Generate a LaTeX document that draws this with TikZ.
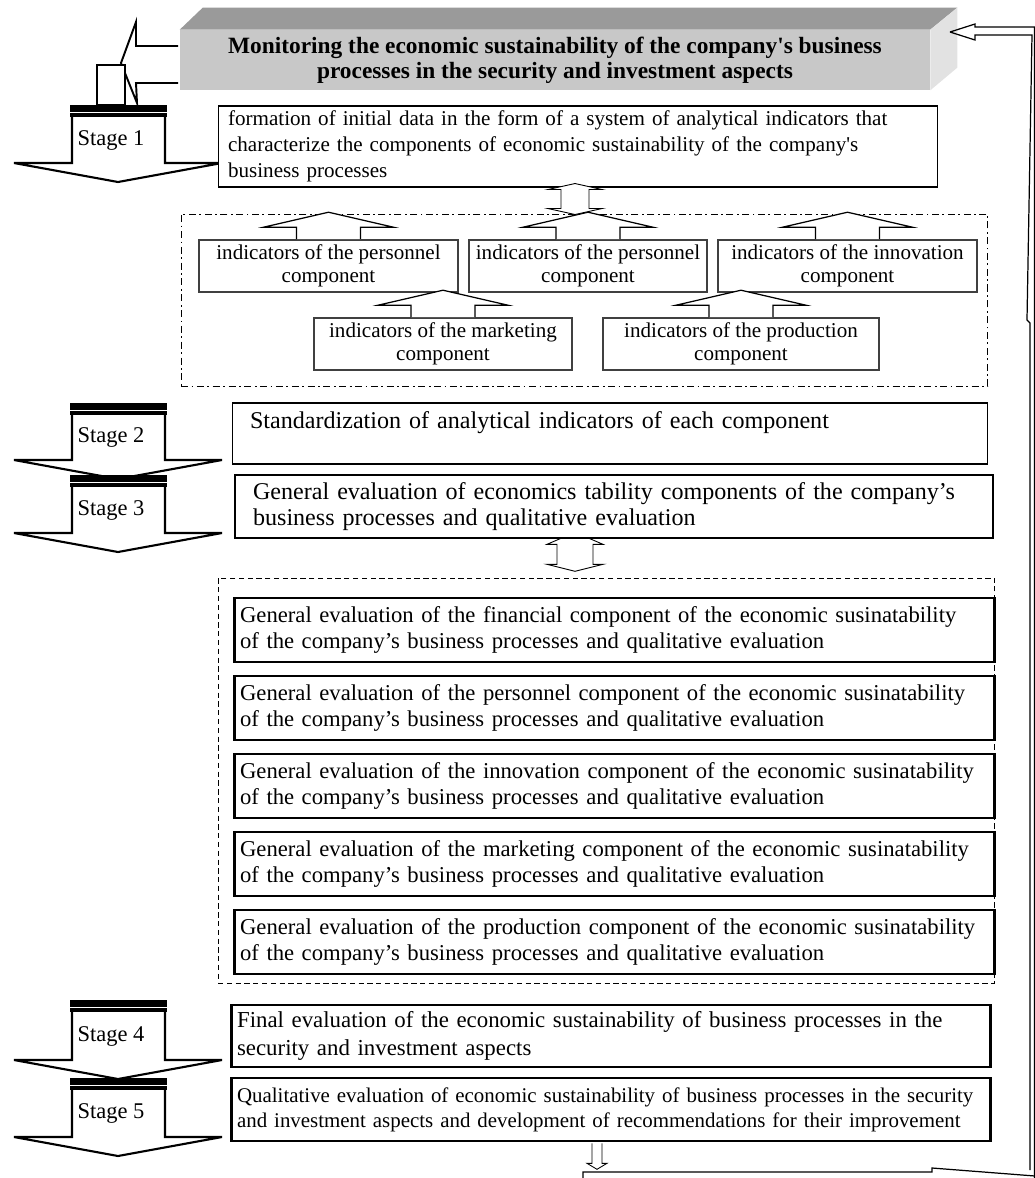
\documentclass[tikz,border=0pt]{standalone}
\usepackage{fontspec}
\setmainfont{Liberation Serif}
\usetikzlibrary{calc,backgrounds}
\tikzset{>=stealth}
\definecolor{hdrfront}{HTML}{C8C8C8}
\definecolor{hdrtop}{HTML}{9A9A9A}
\definecolor{hdrside}{HTML}{E2E2E2}
\newcommand{\sq}{\textquotesingle}
\tikzset{
  box/.style={draw, fill=white, align=left, line width=0.6pt, inner ysep=0pt, font=\fontsize{12}{14.7}\selectfont},
  thickbox/.style={box, line width=1.5pt},
  ind/.style={draw=black!75, fill=white, line width=0.9pt, align=center, inner sep=0pt, minimum height=1.04cm, font=\fontsize{12}{13}\selectfont},
  hollow/.style={draw, fill=white, line width=0.5pt},
  stagebody/.style={draw, fill=white, line width=1.2pt},
  stagelbl/.style={font=\fontsize{12.8}{14}\selectfont},
  grp/.style={draw, line width=0.5pt, inner sep=0pt},
}

\begin{document}
\begin{tikzpicture}[x=0.02cm, y=-0.02cm]
          \useasboundingbox (0,0) rectangle (1035,1178);
          % header block
          \node[fill=hdrfront, minimum width=15cm, minimum height=1.2cm, inner sep=0pt, align=center,
                font=\bfseries\fontsize{13.3}{14.4}\selectfont] (hdr) at (555,60)
                {Monitoring the economic sustainability of the company\sq s business\\processes in the security and investment aspects};
          \fill[hdrtop] (hdr.north west) -- ++(23,-22) -- ($(hdr.north east)+(27,-22)$) -- (hdr.north east) -- cycle;
          \fill[hdrside] (hdr.north east) -- ++(27,-22) -- ++(0,60) -- (hdr.south east) -- cycle;
          % stages
          \foreach \n/\t/\h in {1/105/163, 2/403/460, 3/475/533, 4/1000/1060, 5/1078/1137} {
            \draw[stagebody] (72,\t) -- (72,\h) -- (14,\h) -- (118,{\h+19}) -- (222,\h) -- (165,\h) -- (165,\t);
            \fill (70,\t) rectangle (167,{\t+12});
            \draw[white, line width=0.9pt] (70,{\t+7.5}) -- (167,{\t+7.5});
            \node[stagelbl] (st\n) at (111,{(\t+12+\h)/2}) {Stage \n};
          }
          \draw[line width=1.1pt, fill=white] (178,46) -- (136,46) -- (136,22) -- (121,63) -- (137,103) -- (136,83) -- (178,83);
          \draw[line width=1.1pt, fill=white] (97,65) rectangle (125,105);
          % stage 1
          \node[box, minimum width=14.4cm, minimum height=1.62cm, text width=14.0cm] (data) at (578,146.5)
                {formation of initial data in the form of a system of analytical indicators that\\characterize the components of economic sustainability of the company\sq s\\business processes};
          \node[grp, dash pattern=on 4pt off 2pt on 1pt off 2pt, minimum width=16.14cm, minimum height=3.44cm] (grpA) at (584.5,300) {};
          \node[ind, minimum width=5.18cm] (indA) at (328.5,266) {indicators of the personnel\\component};
          \node[ind, minimum width=4.76cm] (indB) at (588,266) {indicators of the personnel\\component};
          \node[ind, minimum width=5.18cm] (indC) at (847.5,266) {indicators of the innovation\\component};
          \node[ind, minimum width=5.16cm] (indD) at (443,344) {indicators of the marketing\\component};
          \node[ind, minimum width=5.52cm] (indE) at (741,344) {indicators of the production\\component};
          \foreach \b in {indA,indB,indC,indD,indE}
            \draw[hollow, line width=0.7pt] (\b.north) ++(-32,0) -- ++(0,-12) -- ++(-33,0) -- ++(65,-15) -- ++(65,15) -- ++(-33,0) -- ++(0,12);
          \draw[hollow] ($(data.south)+(-3,-4)$) -- ++(27,6) -- ++(-13,0) -- ++(0,19) -- ++(13,0) -- ++(-27,6)
                -- ++(-27,-6) -- ++(13,0) -- ++(0,-19) -- ++(-13,0) -- cycle;
          % stages 2 and 3
          \node[box, minimum width=15.12cm, minimum height=1.22cm, text width=14.4cm,
                font=\fontsize{13.7}{15}\selectfont] (std) at (610,433.5)
                {Standardization of analytical indicators of each component\\\mbox{}};
          \node[thickbox, minimum width=15.16cm, minimum height=1.26cm, text width=14.44cm,
                font=\fontsize{13.7}{14.8}\selectfont] (gen) at (614,506.5)
                {General evaluation of economics tability components of the company's\\business processes and qualitative evaluation};
          \begin{pgfonlayer}{background}
            \draw[hollow] ($(gen.south)+(-39,-7)$) -- ++(28,12) -- ++(-10,0) -- ++(0,20) -- ++(10,0) -- ++(-28,7)
                  -- ++(-28,-7) -- ++(10,0) -- ++(0,-20) -- ++(-10,0) -- cycle;
          \end{pgfonlayer}
          \node[grp, dash pattern=on 3pt off 2pt, minimum width=15.54cm, minimum height=8.1cm] (grpB) at (606.5,780.5) {};
          \foreach \nm/\k [count=\i] in {fin/financial, per/personnel, inn/innovation, mkt/marketing, prd/production} {
            \pgfmathsetmacro{\t}{598+78*(\i-1)}
            \node[thickbox, minimum width=15.14cm, minimum height=1.28cm, text width=14.98cm,
                  font=\fontsize{12.9}{15.3}\selectfont] (ev\nm) at (614.5,{\t+32})
                  {\mbox{General evaluation of the \k\ component of the economic susinatability}\\of the company's business processes and qualitative evaluation};
          }
          % stages 4 and 5
          \node[thickbox, minimum width=15.16cm, minimum height=1.24cm, text width=14.96cm,
                font=\fontsize{13}{15.5}\selectfont] (final) at (611,1036)
                {Final evaluation of the economic sustainability of business processes in the\\security and investment aspects};
          \node[thickbox, minimum width=15.16cm, minimum height=1.26cm, text width=14.96cm,
                font=\fontsize{11.9}{14.2}\selectfont] (qual) at (611,1109.5)
                {Qualitative evaluation of economic sustainability of business processes in the security\\and investment aspects and development of recommendations for their improvement};
          \draw[hollow] ($(qual.south)+(-19,1)$) -- ++(0,20) -- ++(-5,0) -- ++(10,6) -- ++(10,-6) -- ++(-5,0) -- ++(0,-20);
          % feedback
          \coordinate (fb) at (950,32);
          \draw[line width=0.7pt] (583,1178) -- (583,1172) -- (932,1172) -- (932,1168) -- (1035,1176);
          \draw[line width=0.7pt] (fb) -- (975,24) -- (975,27) -- (1034.5,27) -- (1034.5,1178);
          \draw[line width=0.7pt] (fb) -- (975,40) -- (975,35) -- (1032,35) -- (1027,320) -- (1030,323) -- (1030,1170);
        \end{tikzpicture}
\end{document}
